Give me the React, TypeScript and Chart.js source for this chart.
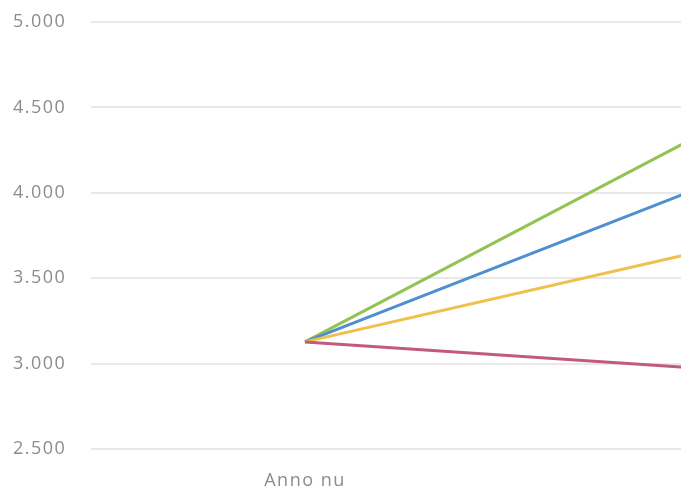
import React, { useEffect, useRef } from "react";
import { Chart, registerables } from "chart.js";

Chart.register(...registerables);

const categories = ["Anno nu", "Toekomst"];
const greenValues = [3127, 4440];
const blueValues = [3127, 4105];
const yellowValues = [3127, 3700];
const redValues = [3127, 2960];
const yMin = 2500;
const yMax = 5000;
const yStep = 500;

function formatThousands(v: number): string {
  const s = Math.round(v).toString();
  return s.replace(/\B(?=(\d{3})+(?!\d))/g, ".");
}

const spacingPlugin = {
  id: "letterSpacing",
  beforeDraw(chart: any) {
    chart.ctx.letterSpacing = "1.5px";
  },
};

export default function App() {
  const ref = useRef<HTMLCanvasElement | null>(null);
  useEffect(() => {
    if (!ref.current) return;
    const font = { family: "'Open Sans', sans-serif", size: 18 };
    const chart = new Chart(ref.current, {
      type: "line",
      plugins: [spacingPlugin],
      data: {
        labels: categories,
        datasets: [
          { data: redValues, borderColor: "#c25b78", borderWidth: 3, pointRadius: 0 },
          { data: yellowValues, borderColor: "#f0bf4c", borderWidth: 3, pointRadius: 0 },
          { data: blueValues, borderColor: "#4f8fcf", borderWidth: 3, pointRadius: 0 },
          { data: greenValues, borderColor: "#92c353", borderWidth: 3, pointRadius: 0 },
        ],
      },
      options: {
        animation: false,
        responsive: true,
        maintainAspectRatio: false,
        layout: { padding: { top: 22, left: 13, right: 13, bottom: 0 } },
        plugins: { legend: { display: false }, tooltip: { enabled: false } },
        scales: {
          x: {
            offset: true,
            grid: { display: false, drawTicks: false },
            border: { display: false },
            ticks: { color: "#8c8c8c", font, padding: 21 },
            afterFit: (scale: any) => {
              scale.height = 43;
            },
          },
          y: {
            min: yMin,
            max: yMax,
            grid: { color: "#e8e8e8", lineWidth: 2, drawTicks: false },
            border: { display: false },
            ticks: {
              stepSize: yStep,
              color: "#8c8c8c",
              font,
              padding: 0,
              crossAlign: "far",
              callback: (v: any) => formatThousands(Number(v)),
            },
            afterFit: (scale: any) => {
              scale.width = 78;
            },
          },
        },
      },
    });
    return () => chart.destroy();
  }, []);
  return (
    <div style={{ position: "fixed", left: 0, top: 0, width: 681, height: 492, overflow: "hidden", background: "#fff" }}>
      <div style={{ position: "relative", width: 960, height: 492 }}>
        <canvas ref={ref} />
      </div>
    </div>
  );
}
